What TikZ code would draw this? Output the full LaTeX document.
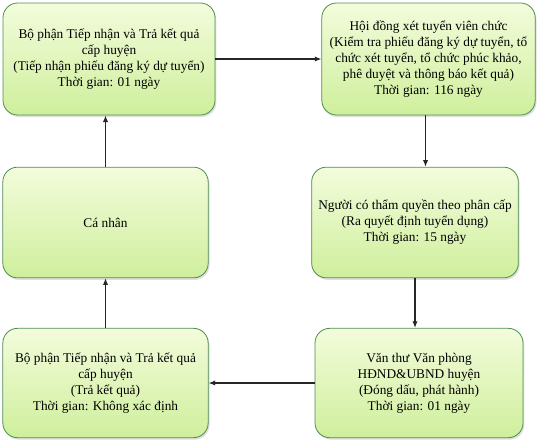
\documentclass[tikz,border=0pt]{standalone}
\usepackage{fontspec}
\setmainfont{Liberation Serif}
\usetikzlibrary{arrows.meta,shadows}
\begin{document}
\begin{tikzpicture}[x=0.75pt,y=-0.75pt,
  box/.style={draw=black!35!green!40!gray, line width=0.6pt, rounded corners=11pt,
    top color=boxtop, bottom color=boxbot, align=center,
    font=\fontsize{10}{12}\selectfont, inner sep=0pt,
    drop shadow={opacity=0.25, shadow xshift=1pt, shadow yshift=-1.5pt}},
  conn/.style={line width=0.9pt, draw=black!85, -{Latex[length=5pt,width=4pt]}}]
\definecolor{boxtop}{HTML}{F3FCDC}
\definecolor{boxbot}{HTML}{CFEF9C}
\useasboundingbox (0,0) rectangle (541,443);
\node[box, minimum width=159pt, minimum height=84pt] (b1) at (109,59)
  {Bộ phận Tiếp nhận và Trả kết quả\\cấp huyện\\(Tiếp nhận phiếu đăng ký dự tuyển)\\Thời gian: 01 ngày};
\node[box, minimum width=160pt, minimum height=84pt] (b2) at (428.5,59)
  {Hội đồng xét tuyển viên chức\\(Kiểm tra phiếu đăng ký dự tuyển, tổ\\chức xét tuyển, tổ chức phúc khảo,\\phê duyệt và thông báo kết quả)\\Thời gian: 116 ngày};
\node[box, minimum width=154pt, minimum height=83pt] (b3) at (105.5,222.5) {Cá nhân};
\node[box, minimum width=155pt, minimum height=83pt] (b4) at (415,222.5)
  {Người có thẩm quyền theo phân cấp\\(Ra quyết định tuyển dụng)\\Thời gian: 15 ngày};
\node[box, minimum width=154pt, minimum height=82pt] (b5) at (105.5,383)
  {Bộ phận Tiếp nhận và Trả kết quả\\cấp huyện\\(Trả kết quả)\\Thời gian: Không xác định};
\node[box, minimum width=156pt, minimum height=82pt] (b6) at (419,383)
  {Văn thư Văn phòng\\HĐND\&UBND huyện\\(Đóng dấu, phát hành)\\Thời gian: 01 ngày};
\draw[conn] (b1.east) -- (b2.west);
\draw[conn] ([xshift=-2.25pt]b2.south) -- ([xshift=-2.25pt]b2.south |- b4.north);
\draw[conn] (b4.south) -- (b4.south |- b6.north);
\draw[conn] (b6.west) -- (b6.west -| b5.east);
\draw[conn] (b5.north) -- (b3.south);
\draw[conn] (b3.north) -- (b3.north |- b1.south);
\end{tikzpicture}
\end{document}
